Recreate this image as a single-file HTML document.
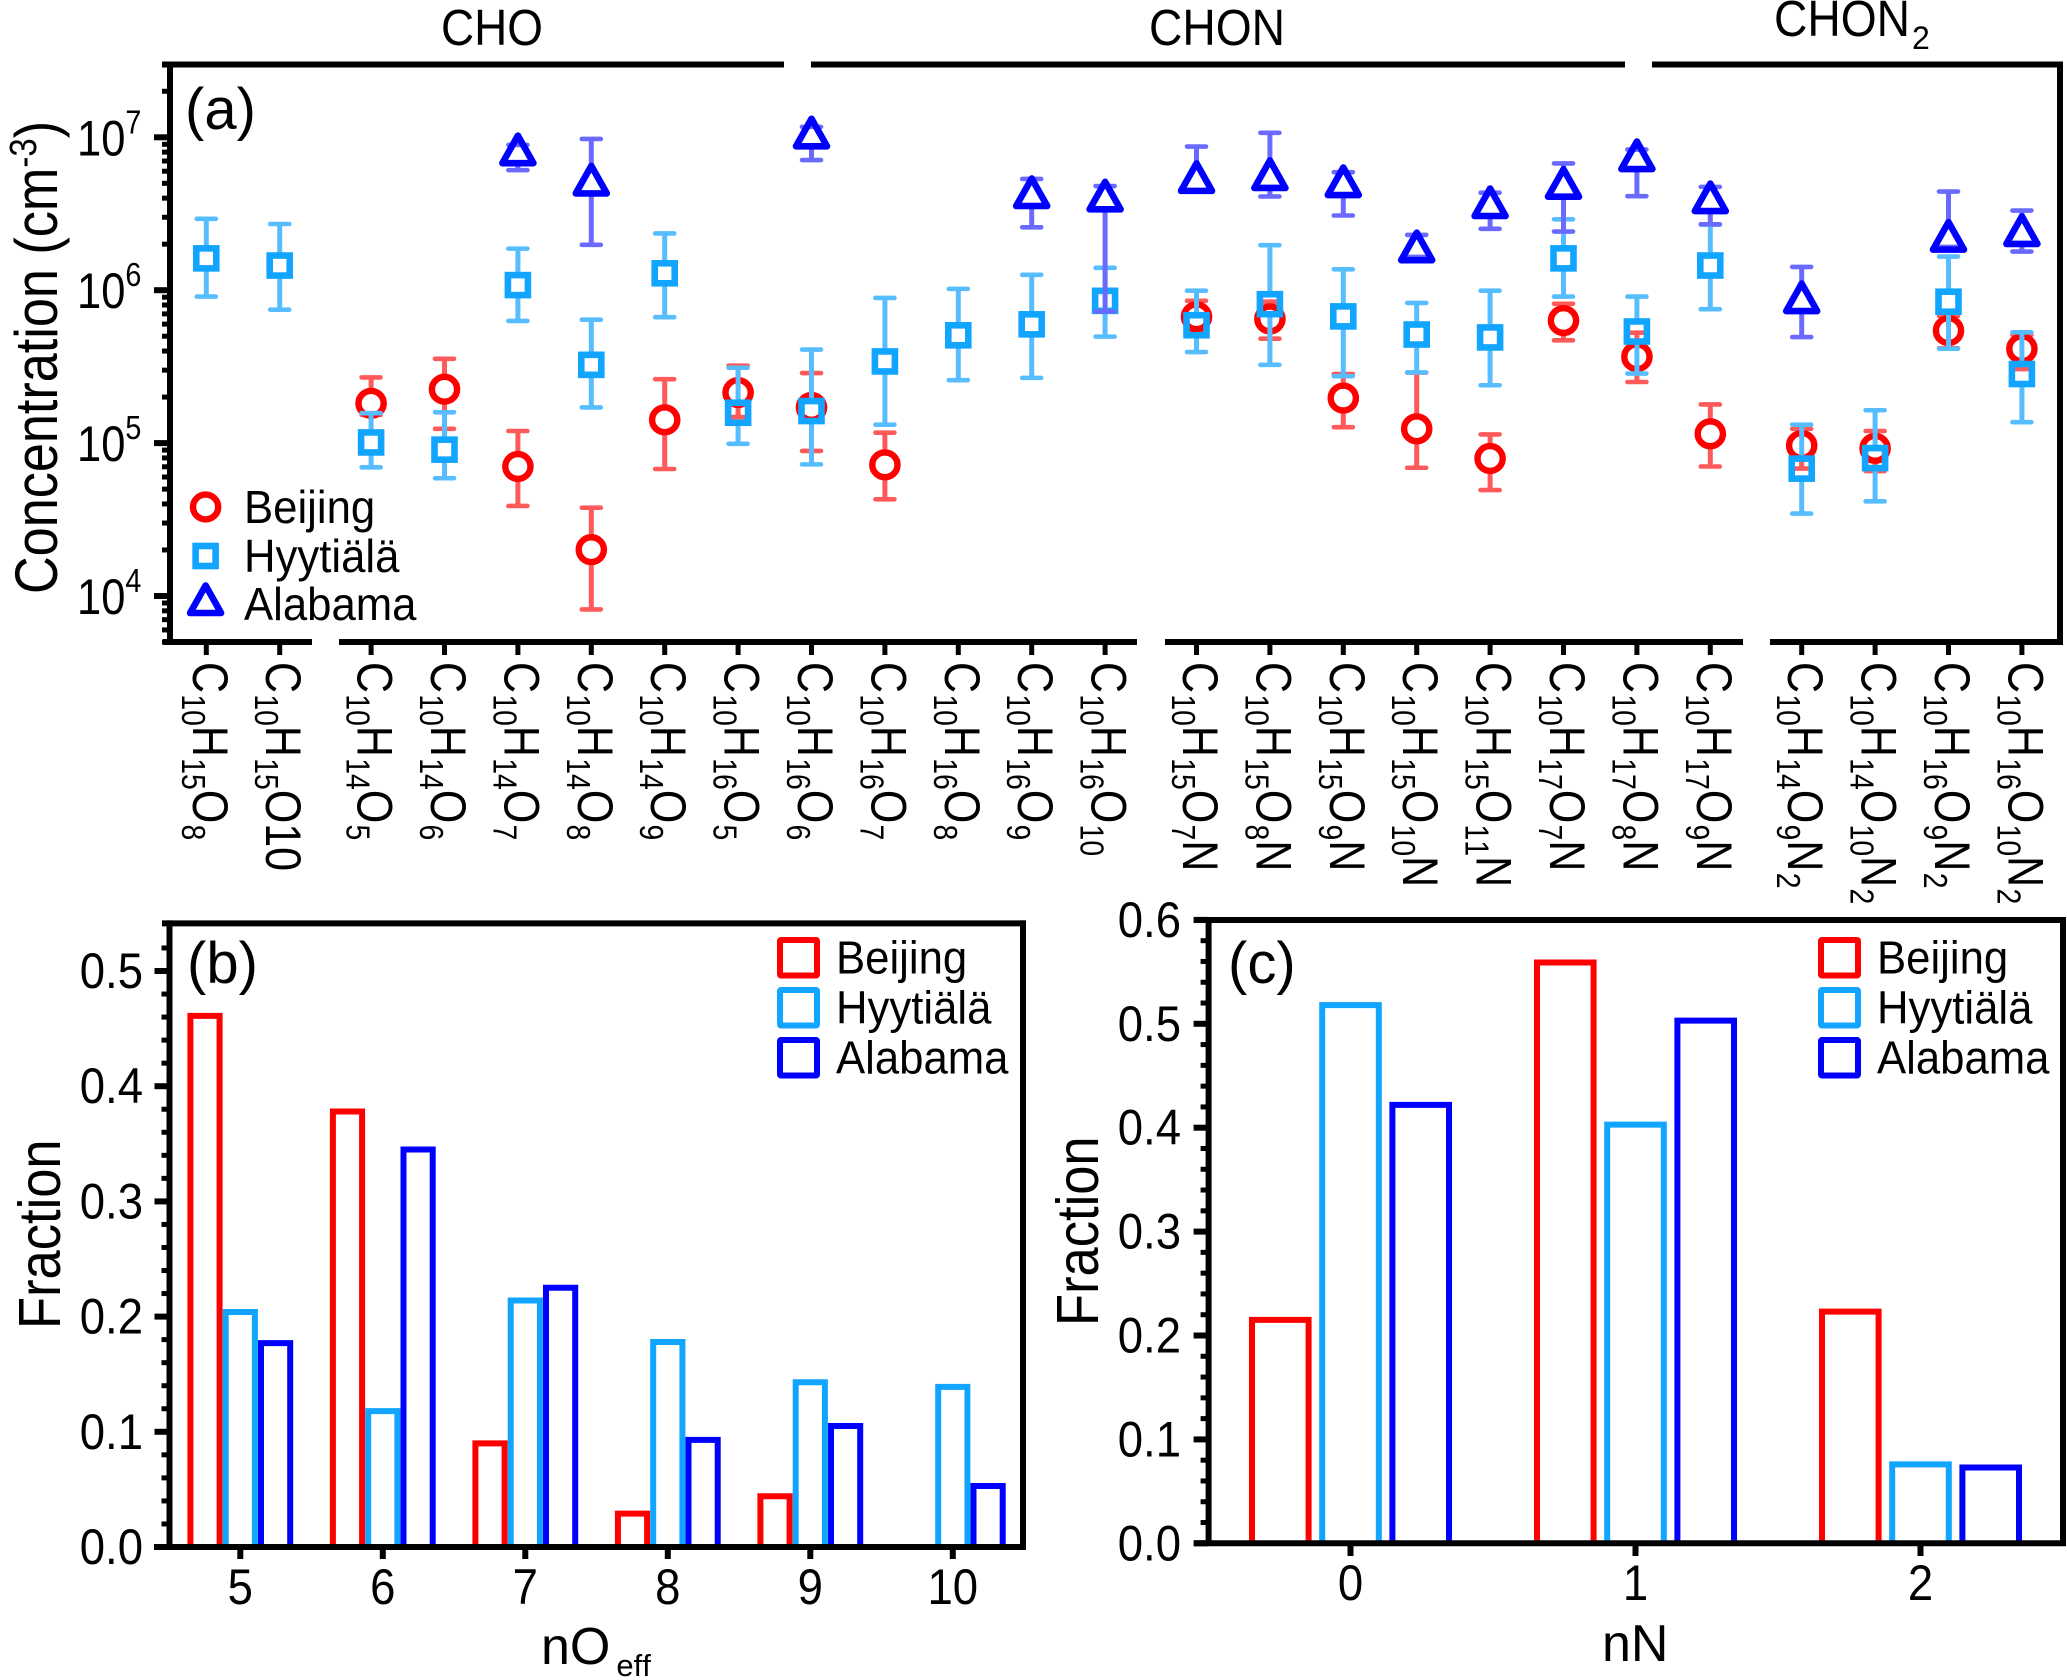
<!DOCTYPE html>
<html lang="en">
<head>
<meta charset="utf-8">
<title>Concentration and fraction chart</title>
<style>
html,body{margin:0;padding:0;background:#fff;}
svg{display:block;}
text{font-family:"Liberation Sans",Arial,sans-serif;fill:#000;font-kerning:none;}
</style>
</head>
<body>
<svg id="fig" width="2067" height="1680" viewBox="0 0 2067 1680" xmlns="http://www.w3.org/2000/svg">
<rect width="2067" height="1680" fill="#fff"/>
<text x="441" y="45" font-size="51" textLength="102" lengthAdjust="spacingAndGlyphs">CHO</text>
<text x="1149" y="45" font-size="51" textLength="136" lengthAdjust="spacingAndGlyphs">CHON</text>
<text x="1774" y="36" font-size="51" textLength="136" lengthAdjust="spacingAndGlyphs">CHON</text>
<text x="1912" y="49" font-size="32">2</text>
<text x="185" y="129" font-size="58">(a)</text>
<text x="187" y="983" font-size="58">(b)</text>
<text x="1228" y="983" font-size="58">(c)</text>
<text transform="translate(57,594) rotate(-90) scale(.87,1)" font-size="60">Concentration (cm<tspan font-size="38" dy="-21">-3</tspan><tspan dy="21">)</tspan></text>
<text transform="translate(60,1329) rotate(-90) scale(.89,1)" font-size="59">Fraction</text>
<text transform="translate(1098,1326) rotate(-90) scale(.89,1)" font-size="59">Fraction</text>
<text x="541" y="1664" font-size="52">nO<tspan font-size="31" dy="12" dx="6">eff</tspan></text>
<text x="1602" y="1661" font-size="52">nN</text>
<g id="layer"></g>
</svg>
<script>
const categories = ['C10H15O8','C10H15O10','C10H14O5','C10H14O6','C10H14O7','C10H14O8','C10H14O9','C10H16O5','C10H16O6','C10H16O7','C10H16O8','C10H16O9','C10H16O10','C10H15O7N','C10H15O8N','C10H15O9N','C10H15O10N','C10H15O11N','C10H17O7N','C10H17O8N','C10H17O9N','C10H14O9N2','C10H14O10N2','C10H16O9N2','C10H16O10N2'];
const axisSegments = [0,0,1,1,1,1,1,1,1,1,1,1,1,2,2,2,2,2,2,2,2,3,3,3,3];
const plainDigitCategories = ['C10H15O10'];
const logTickExponents = [4,5,6,7];

const beijingMid = [null,null,1.82e5,2.25e5,7.03e4,2.01e4,1.42e5,2.14e5,1.71e5,7.21e4,null,null,null,6.70e5,6.49e5,1.97e5,1.24e5,7.93e4,6.33e5,3.67e5,1.15e5,9.65e4,9.24e4,5.44e5,4.14e5];
const beijingHigh = [null,null,2.69e5,3.56e5,1.20e5,3.78e4,2.62e5,3.21e5,2.87e5,1.17e5,null,null,null,8.52e5,8.41e5,2.83e5,2.89e5,1.14e5,8.15e5,5.27e5,1.79e5,1.24e5,1.20e5,6.78e5,5.10e5];
const beijingLow = [null,null,1.53e5,1.24e5,3.88e4,8.17e3,6.77e4,1.48e5,8.89e4,4.29e4,null,null,null,5.27e5,4.82e5,1.27e5,6.90e4,4.93e4,4.70e5,2.51e5,7.03e4,6.81e4,6.56e4,4.17e5,3.05e5];

const hyytialaMid = [1.615e6,1.45e6,1.01e5,9.06e4,1.08e6,3.25e5,1.29e6,1.58e5,1.62e5,3.42e5,5.07e5,5.98e5,8.52e5,5.90e5,8.10e5,6.74e5,5.13e5,4.91e5,1.615e6,5.37e5,1.45e6,6.81e4,7.98e4,8.41e5,2.83e5];
const hyytialaHigh = [2.93e6,2.71e6,1.57e5,1.59e5,1.87e6,6.41e5,2.35e6,3.11e5,4.09e5,8.90e5,1.02e6,1.26e6,1.40e6,9.92e5,1.97e6,1.37e6,8.26e5,9.92e5,2.91e6,9.08e5,2.68e6,1.32e5,1.64e5,1.66e6,5.30e5];
const hyytialaLow = [9.08e5,7.46e5,6.94e4,5.89e4,6.29e5,1.71e5,6.66e5,9.90e4,7.26e4,1.32e5,2.58e5,2.67e5,4.97e5,3.94e5,3.25e5,2.74e5,2.90e5,2.39e5,9.08e5,2.85e5,7.51e5,3.46e4,4.16e4,4.14e5,1.37e5];

const alabamaMid = [null,null,null,null,7.76e6,4.92e6,null,null,1.00e7,null,null,4.07e6,3.87e6,5.11e6,5.34e6,4.80e6,1.80e6,3.50e6,4.68e6,7.10e6,3.77e6,8.36e5,null,2.11e6,2.30e6];
const alabamaHigh = [null,null,null,null,8.92e6,9.75e6,null,null,1.17e7,null,null,5.34e6,4.80e6,8.70e6,1.07e7,5.91e6,2.30e6,4.34e6,6.75e6,8.32e6,4.74e6,1.42e6,null,4.42e6,3.32e6];
const alabamaLow = [null,null,null,null,6.10e6,1.98e6,null,null,7.10e6,null,null,2.58e6,7.27e5,4.48e6,4.10e6,3.08e6,1.65e6,2.52e6,2.42e6,4.12e6,2.70e6,4.94e5,null,1.92e6,1.79e6];

const seriesNames = ['Beijing','Hyytiälä','Alabama'];

const nOCategories = [5,6,7,8,9,10];
const nOBeijing = [0.461,0.378,0.090,0.029,0.044,0];
const nOHyytiala = [0.204,0.118,0.214,0.178,0.143,0.139];
const nOAlabama = [0.177,0.345,0.225,0.093,0.105,0.053];

const nNCategories = [0,1,2];
const nNBeijing = [0.215,0.559,0.223];
const nNHyytiala = [0.518,0.403,0.076];
const nNAlabama = [0.422,0.503,0.073];

const fractionTicksB = [0,0.1,0.2,0.3,0.4,0.5];
const fractionTicksC = [0,0.1,0.2,0.3,0.4,0.5,0.6];

const RED = '#ff0000', SKY = '#12a5ff', BLUE = '#0000ff';
const RED_ERR = '#ff5a5a', SKY_ERR = '#58bdff', BLUE_ERR = '#6a6aff';
const NS = 'http://www.w3.org/2000/svg';
const layer = document.getElementById('layer');

function mk(tag, attrs, name, parent) {
  const el = document.createElementNS(NS, tag);
  for (const k in attrs) el.setAttribute(k, attrs[k]);
  
  
  (parent || layer).appendChild(el);
  return el;
}
function line(x1, y1, x2, y2, name, color, w, cap) {
  return mk('line', {x1, y1, x2, y2, stroke: color || '#000', 'stroke-width': w || 6, 'stroke-linecap': cap || 'butt'}, name);
}

/* ---------- axis functions ---------- */
function xA(i) { return 206.3 + i * 73.4 + axisSegments[i] * 18; }
function yA(v) { return 596 - (Math.log10(v) - 4) * 152.9; }
function xB(n) { return 240.3 + (n - 5) * 142.5; }
function yB(v) { return 1547 - v * 1152; }
function xC(n) { return 1350.5 + n * 285; }
function yC(v) { return 1543.3 - v * 1039; }

/* ---------- markers ---------- */
function marker(kind, x, y, name) {
  if (kind === 0) return mk('ellipse', {cx: x, cy: y, rx: 12.6, ry: 12.4, fill: 'none', stroke: RED, 'stroke-width': 6.4}, name);
  if (kind === 1) return mk('rect', {x: x - 10, y: y - 10, width: 20, height: 20, fill: 'none', stroke: SKY, 'stroke-width': 6.6}, name);
  return mk('polygon', {points: (x) + ',' + (y - 18.5) + ' ' + (x + 15.5) + ',' + (y + 9) + ' ' + (x - 15.5) + ',' + (y + 9), fill: 'none', stroke: BLUE, 'stroke-width': 6.6, 'stroke-linejoin': 'round'}, name);
}
const gapTop = [11, 9, 17];
const gapBottom = [11, 9, 8];
const errColors = [RED_ERR, SKY_ERR, BLUE_ERR];

function drawSeries(kind, mid, high, low, label) {
  mid.forEach(function (m, i) {
    if (m === null) return;
    const x = xA(i), y = yA(m), yh = yA(high[i]), yl = yA(low[i]), c = errColors[kind];
    if (yh < y - gapTop[kind]) line(x, yh, x, y - gapTop[kind], label + '-error-up-' + i, c, 5);
    if (yl > y + gapBottom[kind]) line(x, y + gapBottom[kind], x, yl, label + '-error-down-' + i, c, 5);
    line(x - 9.5, yh, x + 9.5, yh, label + '-cap-high-' + i, c, 4.6, 'round');
    line(x - 9.5, yl, x + 9.5, yl, label + '-cap-low-' + i, c, 4.6, 'round');
    marker(kind, x, y, label + '-point-' + i);
  });
}

/* ---------- panel a ---------- */
[[162, 784], [811, 1625], [1652, 2063]].forEach(function (s, i) { line(s[0], 64.5, s[1], 64.5, 'panel-a-top-axis-' + i); });
[[163, 312], [339, 1137], [1165, 1743], [1770, 2063]].forEach(function (s, i) { line(s[0], 642, s[1], 642, 'panel-a-bottom-axis-' + i); });
line(170, 61.5, 170, 645, 'panel-a-left-axis');
line(2060, 61.5, 2060, 645, 'panel-a-right-axis');

logTickExponents.forEach(function (e) {
  const y = yA(Math.pow(10, e));
  line(154, y, 170, y, 'y-major-tick-a');
  const t = mk('text', {transform: 'translate(77,' + (y + 18) + ') scale(.87,1)', 'font-size': 50}, 'y-tick-label-a');
  t.appendChild(document.createTextNode('10'));
  const s = mk('tspan', {'font-size': 33, dy: -22}, 'y-tick-exponent', t);
  s.textContent = String(e);
});
for (let e = 3; e <= 7; e++) {
  for (let m = 2; m <= 9; m++) {
    const v = m * Math.pow(10, e);
    if (v < 5000 || v > 3e7) continue;
    const y = yA(v);
    line(162, y, 170, y, 'y-minor-tick-a', '#000', 5);
  }
}

categories.forEach(function (c, i) {
  const x = xA(i);
  line(x, 642, x, 655, 'x-tick-a', '#000', 5);
  const t = mk('text', {transform: 'translate(' + (x - 13.5) + ',662) rotate(90) scale(.86,1)', 'font-size': 50}, 'x-tick-label-' + i);
  const plain = plainDigitCategories.indexOf(c) >= 0;
  const parts = c.match(/[A-Z]|\d+/g);
  let offset = 0;
  parts.forEach(function (p, k) {
    const digit = /\d/.test(p);
    const isPlainTail = plain && k === parts.length - 1;
    const isSub = digit && !isPlainTail;
    const ts = isSub ? mk('tspan', {'font-size': 33, dy: 11 - offset, dx: 1.5}, 'formula-subscript', t) : mk('tspan', {dy: -offset, dx: 0}, 'formula-element', t);
    ts.textContent = p;
    offset = isSub ? 11 : 0;
  });
});

drawSeries(0, beijingMid, beijingHigh, beijingLow, 'beijing');
drawSeries(1, hyytialaMid, hyytialaHigh, hyytialaLow, 'hyytiala');
drawSeries(2, alabamaMid, alabamaHigh, alabamaLow, 'alabama');

[507, 556, 604].forEach(function (y, k) {
  marker(k, 205.6, y, 'legend-a-symbol-' + seriesNames[k]);
  const t = mk('text', {transform: 'translate(244,' + (y + 16) + ') scale(.95,1)', 'font-size': 46}, 'legend-a-label-' + k);
  t.textContent = seriesNames[k];
});

/* ---------- bar panels ---------- */
function drawBars(cats, sets, xf, yf, offset, half, panel) {
  const colors = [RED, SKY, BLUE];
  sets.forEach(function (vals, s) {
    vals.forEach(function (v, i) {
      if (v <= 0) return;
      const cx = xf(cats[i]) + (s - 1) * offset, y0 = yf(0), y = yf(v);
      mk('path', {d: 'M' + (cx - half) + ' ' + y0 + ' V' + y + ' H' + (cx + half) + ' V' + y0, fill: 'none', stroke: colors[s], 'stroke-width': 6}, panel + '-bar-' + seriesNames[s] + '-' + cats[i]);
    });
  });
}
function drawFrame(l, r, t, b, tickStart, panel) {
  line(tickStart, t, r + 3, t, panel + '-top-axis');
  line(l, t - 3, l, b, panel + '-left-axis');
  line(r, t - 3, r, b, panel + '-right-axis');
}
function drawYTicks(ticks, yf, l, labelRight, panel, maxV) {
  ticks.forEach(function (v) {
    const y = yf(v);
    line(l - 15, y, l, y, panel + '-y-major-tick');
    const t = mk('text', {transform: 'translate(' + labelRight + ',' + (y + 17) + ') scale(.91,1)', 'font-size': 50, 'text-anchor': 'end'}, panel + '-y-tick-label');
    t.textContent = v.toFixed(1);
  });
  for (let k = 1; k * 0.02 < maxV; k++) {
    if (k % 5 === 0) continue;
    const y = yf(k * 0.02);
    line(l - 8, y, l, y, panel + '-y-minor-tick', '#000', 5);
  }
}
function drawLegend(x, panel) {
  const colors = [RED, SKY, BLUE];
  [940, 990, 1040].forEach(function (y, k) {
    mk('rect', {x: x, y: y, width: 37, height: 35.5, fill: 'none', stroke: colors[k], 'stroke-width': 6, rx: 1}, panel + '-legend-swatch-' + k);
    const t = mk('text', {transform: 'translate(' + (x + 56) + ',' + (y + 33.5) + ') scale(.95,1)', 'font-size': 46}, panel + '-legend-label-' + k);
    t.textContent = seriesNames[k];
  });
}

/* panel b */
drawBars(nOCategories, [nOBeijing, nOHyytiala, nOAlabama], xB, yB, 35.3, 14.6, 'panel-b');
drawFrame(169.5, 1023, 923.4, 1547, 162, 'panel-b');
line(154, 1547, 1026, 1547, 'panel-b-bottom-axis');
drawYTicks(fractionTicksB, yB, 169.5, 143, 'panel-b', 0.54);
nOCategories.forEach(function (n) {
  const x = xB(n);
  line(x, 1547, x, 1559, 'panel-b-x-tick');
  const t = mk('text', {transform: 'translate(' + x + ',1604) scale(.91,1)', 'font-size': 50, 'text-anchor': 'middle'}, 'panel-b-x-tick-label');
  t.textContent = String(n);
});
drawLegend(780, 'panel-b');

/* panel c */
drawBars(nNCategories, [nNBeijing, nNHyytiala, nNAlabama], xC, yC, 70.2, 28.3, 'panel-c');
drawFrame(1208.6, 2063, 920, 1543.3, 1194, 'panel-c');
line(1194, 1543.3, 2066, 1543.3, 'panel-c-bottom-axis');
drawYTicks(fractionTicksC, yC, 1208.6, 1181, 'panel-c', 0.6);
nNCategories.forEach(function (n) {
  const x = xC(n);
  line(x, 1543.3, x, 1556, 'panel-c-x-tick');
  const t = mk('text', {transform: 'translate(' + x + ',1600) scale(.91,1)', 'font-size': 50, 'text-anchor': 'middle'}, 'panel-c-x-tick-label');
  t.textContent = String(n);
});
drawLegend(1821, 'panel-c');
</script>
</body>
</html>
